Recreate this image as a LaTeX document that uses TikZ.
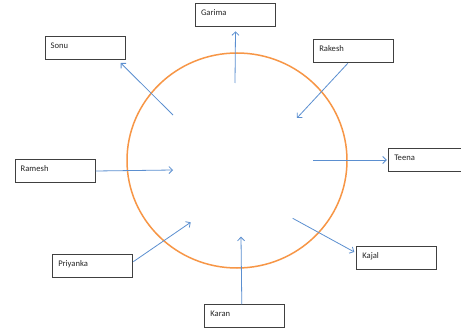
\documentclass[tikz,border=0pt]{standalone}
\usepackage{fontspec}
\setmainfont{Carlito}
\usetikzlibrary{arrows.meta}
\definecolor{ringorange}{HTML}{F79646}
\definecolor{arrowblue}{HTML}{5B8FD0}
\definecolor{boxgray}{HTML}{404040}
\tikzset{
  namebox/.style={draw=boxgray, line width=1pt, fill=white, anchor=north west,
    text width=69pt, align=left, inner xsep=5.5pt, inner ysep=2pt,
    text height=10pt, text depth=9pt, font=\fontsize{8.6}{10}\selectfont, text=black!85},
  arr/.style={draw=arrowblue, line width=0.8pt, -{Straight Barb[length=3.5pt,width=7pt]}},
  ring/.style={draw=ringorange, line width=1.5pt}
}
\begin{document}
\begin{tikzpicture}[x=1pt,y=-1pt]
\useasboundingbox (0,0) rectangle (461,329);
\fill[white] (0,0) rectangle (461,329);
% circle
\draw[ring] (237,160.5) ellipse [x radius=110, y radius=107.5];
% boxes
\node[namebox] (garima) at (195,3.3) {Garima};
\node[namebox] (sonu) at (44.7,36) {Sonu};
\node[namebox] (rakesh) at (313.3,39.3) {Rakesh};
\node[namebox] (teena) at (388.3,148) {Teena};
\node[namebox] (ramesh) at (14.7,159) {Ramesh};
\node[namebox] (priyanka) at (52.3,253.7) {Priyanka};
\node[namebox] (kajal) at (356.3,246) {Kajal};
\node[namebox] (karan) at (204.3,304.3) {Karan};
% inner free ends
\coordinate (csonu) at (173,115);
\coordinate (cgarima) at (235,83);
\coordinate (crakesh) at (297,118);
\coordinate (cteena) at (313,160);
\coordinate (cramesh) at (173,170);
\coordinate (cpriyanka) at (190.7,222.3);
\coordinate (ckaran) at (241,236.7);
\coordinate (ckajal) at (292.7,218.3);
% connectors
\draw[arr] (csonu) -- ([xshift=-5pt,yshift=-3pt]sonu.south east);
\draw[arr] (cgarima) -- ([yshift=-4pt]garima.south);
\draw[arr] ([xshift=-6pt]rakesh.south) -- (crakesh);
\draw[arr] (cteena) -- ([xshift=-1.5pt]teena.west);
\draw[arr] (ramesh.east) -- (cramesh);
\draw[arr] ([yshift=4pt]priyanka.east) -- (cpriyanka);
\draw[arr] ([xshift=-3pt]karan.north) -- (ckaran);
\draw[arr] (ckajal) -- ([xshift=-2pt,yshift=-6pt]kajal.north west);
\end{tikzpicture}
\end{document}
